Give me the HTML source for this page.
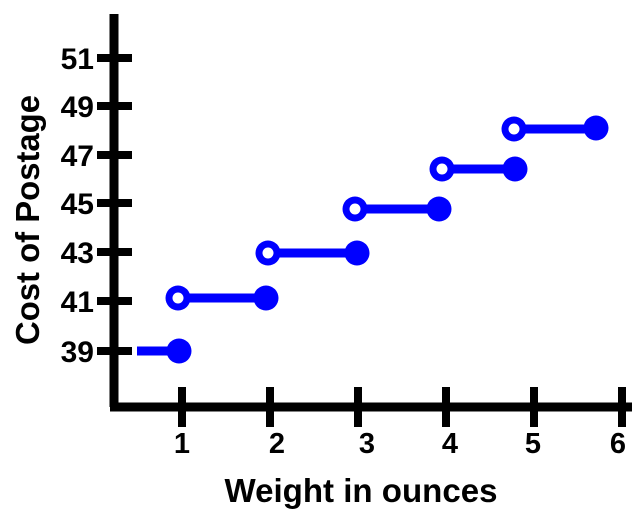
<!DOCTYPE html>
<html><head><style>body{margin:0;background:#fff}</style></head><body>
<svg width="644" height="514" xmlns="http://www.w3.org/2000/svg" font-family="Liberation Sans, Arial, sans-serif" font-weight="bold">
<g stroke="#000" stroke-width="9" fill="none">
<line x1="114" y1="14" x2="114" y2="407"/>
<line x1="110" y1="407" x2="632" y2="407"/>
</g>
<g stroke="#000" stroke-width="8">
<line x1="97" y1="351" x2="132" y2="351"/>
<line x1="97" y1="301" x2="132" y2="301"/>
<line x1="97" y1="252" x2="132" y2="252"/>
<line x1="97" y1="203" x2="132" y2="203"/>
<line x1="97" y1="155" x2="132" y2="155"/>
<line x1="97" y1="106" x2="132" y2="106"/>
<line x1="97" y1="58" x2="132" y2="58"/>
<line x1="182" y1="387" x2="182" y2="427"/>
<line x1="270" y1="387" x2="270" y2="427"/>
<line x1="358" y1="387" x2="358" y2="427"/>
<line x1="446" y1="387" x2="446" y2="427"/>
<line x1="534" y1="387" x2="534" y2="427"/>
<line x1="622" y1="387" x2="622" y2="427"/>
</g>
<g font-size="30" text-anchor="end" fill="#000">
<text x="94" y="362">39</text><text x="94" y="312">41</text><text x="94" y="263">43</text>
<text x="94" y="214">45</text><text x="94" y="166">47</text><text x="94" y="117">49</text><text x="94" y="69">51</text>
</g>
<g font-size="29" text-anchor="middle" fill="#000">
<text x="182" y="453">1</text><text x="277" y="453">2</text><text x="367" y="453">3</text>
<text x="450" y="453">4</text><text x="533" y="453">5</text><text x="618" y="453">6</text>
</g>
<text x="361" y="502" font-size="33" text-anchor="middle" textLength="273" lengthAdjust="spacingAndGlyphs">Weight in ounces</text>
<text transform="translate(39,220) rotate(-90)" font-size="33" text-anchor="middle" textLength="250" lengthAdjust="spacingAndGlyphs">Cost of Postage</text>
<g stroke="#0000ff" stroke-width="9">
<line x1="137" y1="351" x2="178" y2="351"/>
<line x1="178" y1="298" x2="266" y2="298"/>
<line x1="268" y1="253" x2="357" y2="253"/>
<line x1="355" y1="209" x2="439" y2="209"/>
<line x1="442" y1="169" x2="515" y2="169"/>
<line x1="514" y1="129" x2="596" y2="129"/>
</g>
<g fill="#0000ff">
<circle cx="179" cy="351" r="12.5"/><circle cx="266" cy="298" r="12.5"/><circle cx="357" cy="253" r="12.5"/>
<circle cx="439" cy="209" r="12.5"/><circle cx="515" cy="169" r="12.5"/><circle cx="596" cy="128" r="12.5"/>
<circle cx="178" cy="298" r="12.5"/><circle cx="268" cy="253" r="12.5"/><circle cx="355" cy="209" r="12.5"/>
<circle cx="442" cy="169" r="12.5"/><circle cx="514" cy="129" r="12.5"/>
</g>
<g fill="#fff">
<circle cx="178" cy="298" r="5.5"/><circle cx="268" cy="253" r="5.5"/><circle cx="355" cy="209" r="5.5"/>
<circle cx="442" cy="169" r="5.5"/><circle cx="514" cy="129" r="5.5"/>
</g>
</svg>
</body></html>
